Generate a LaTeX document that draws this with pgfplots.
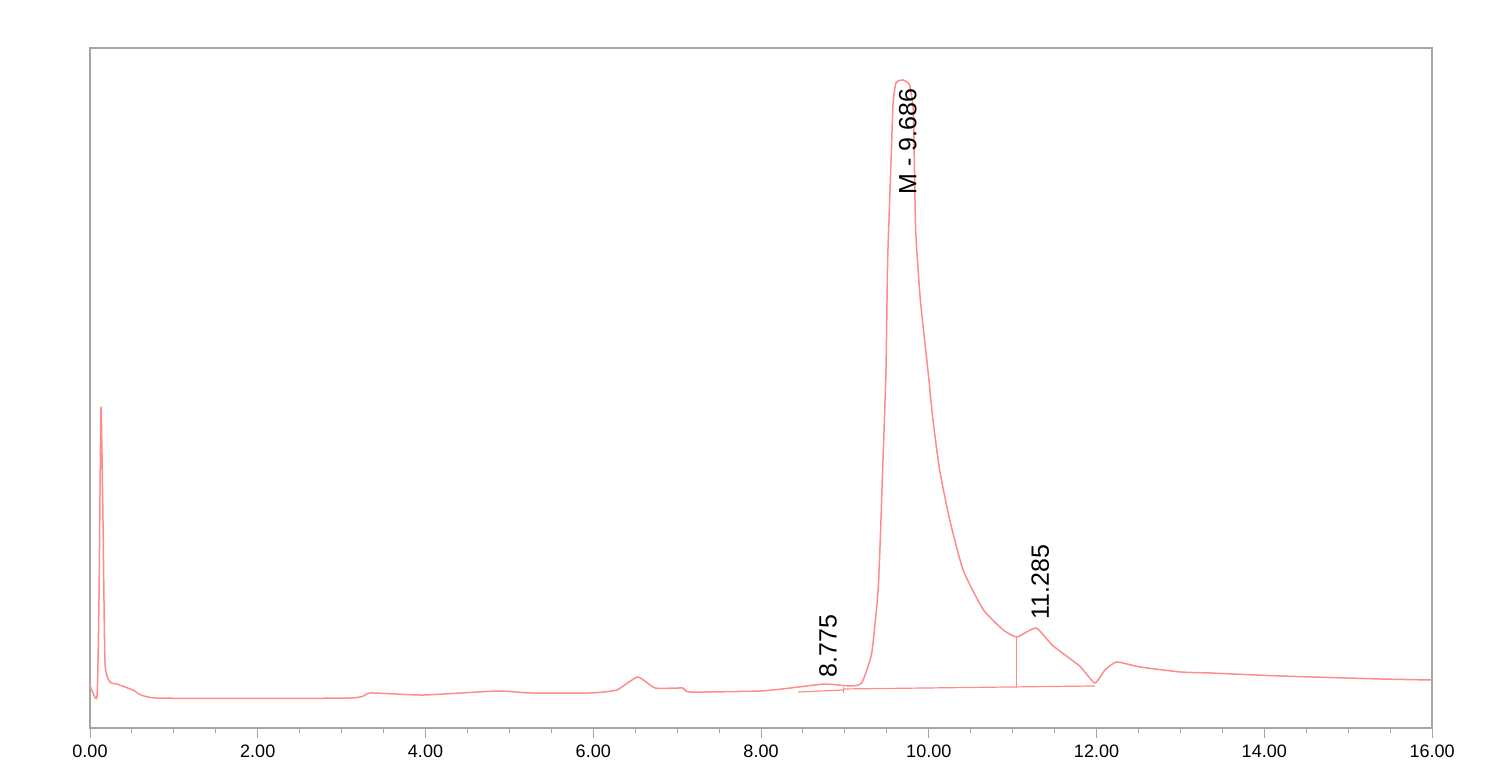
\documentclass[border=0pt]{standalone}
\usepackage{fontspec}
\setmainfont{Liberation Sans}
\usepackage{pgfplots}
\pgfplotsset{compat=1.18}
\definecolor{trace}{RGB}{255,140,140}
\definecolor{frame}{RGB}{165,165,165}
\begin{document}
\begin{tikzpicture}
\begin{axis}[
  scale only axis,
  width=671pt, height=340pt,
  xmin=0, xmax=16, ymin=0, ymax=100,
  axis line style={frame, line width=0.6pt},
  xtick distance=2, minor x tick num=3,
  xtick pos=bottom, tick align=outside,
  major tick length=5pt, minor tick length=2.5pt,
  tick style={frame, line width=0.5pt},
  ytick=\empty,
  /pgf/number format/assume math mode=true,
  xticklabel style={font=\fontsize{9}{9}\selectfont,
    /pgf/number format/.cd, fixed, fixed zerofill, precision=2},
  clip=false,
]
% trace
\addplot[trace, line width=0.75pt, smooth, tension=0.3] coordinates {
  (0,6.32) (0.083,4.56) (0.107,18.8) (0.131,47.06) (0.155,30.6) (0.179,9.56)
  (0.238,6.76) (0.322,6.47) (0.513,5.59) (0.799,4.41) (3.10,4.41) (3.34,5.15)
  (3.97,4.85) (4.85,5.44) (5.25,5.15) (5.96,5.15) (6.28,5.59) (6.53,7.50)
  (6.74,5.88) (7.07,5.88) (7.15,5.29) (7.99,5.44) (8.35,5.88) (8.76,6.47)
  (9.06,6.18) (9.20,6.62) (9.32,11.03) (9.40,21.0) (9.45,37.9) (9.49,52.6)
  (9.51,68.8) (9.555,85.0) (9.575,92.0) (9.61,94.9) (9.69,95.3) (9.77,94.6)
  (9.815,91.0) (9.83,82.0) (9.845,72.8)
  (9.90,62.9) (9.99,52.6) (10.05,45.3) (10.13,37.9) (10.25,30.6) (10.41,23.2)
  (10.65,17.4) (10.89,14.4) (11.05,13.4) (11.28,14.7) (11.48,12.1) (11.80,9.1)
  (11.98,6.62) (12.10,8.53) (12.24,9.71) (12.52,8.97) (13.00,8.24) (13.35,8.09)
  (14.19,7.65) (15.38,7.21) (16.00,7.06)
};
% baselines and drop lines
\addplot[trace, line width=0.6pt] coordinates {(8.44,5.29) (8.98,5.59)};
\addplot[trace, line width=0.6pt] coordinates {(8.98,5.74) (11.98,6.18)};
\addplot[trace, line width=0.6pt] coordinates {(8.98,5.2) (8.98,6.1)};
\addplot[trace, line width=0.6pt] coordinates {(11.05,6.10) (11.05,13.4)};
% peak labels
\node[rotate=90, anchor=west, inner sep=0pt, font=\fontsize{12.5}{12.5}\selectfont]
  at (axis cs:9.75,78.4) {M - 9.686};
\node[rotate=90, anchor=west, inner sep=0pt, font=\fontsize{12.5}{12.5}\selectfont]
  at (axis cs:8.80,7.4) {8.775};
\node[rotate=90, anchor=west, inner sep=0pt, font=\fontsize{12.5}{12.5}\selectfont]
  at (axis cs:11.33,15.9) {11.285};
\end{axis}
\path ([xshift=-45pt,yshift=-21.5pt]current axis.south west)
  rectangle ([xshift=37.5pt,yshift=24pt]current axis.north east);
\end{tikzpicture}
\end{document}
